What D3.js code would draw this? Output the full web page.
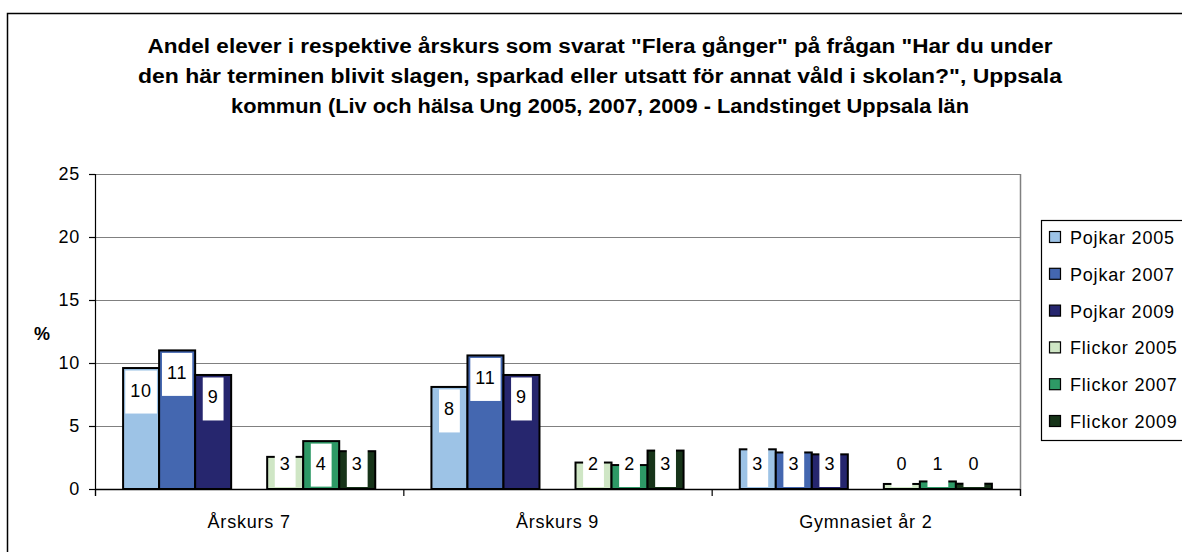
<!DOCTYPE html>
<meta charset="utf-8">
<style>
  body { margin: 0; background: #fff; }
  svg text { font-family: "Liberation Sans", Arial, sans-serif; }
</style>
<body>
<div class="chart"></div>
<script src="https://d3js.org/d3.v7.min.js"></script>
<script>

    const categories = ["Årskurs 7", "Årskurs 9", "Gymnasiet år 2"];
    const seriesNames = ["Pojkar 2005", "Pojkar 2007", "Pojkar 2009", "Flickor 2005", "Flickor 2007", "Flickor 2009"];
    const pojkar2005 = [9.6, 8.1, 3.15];
    const pojkar2007 = [11.0, 10.6, 2.9];
    const pojkar2009 = [9.05, 9.05, 2.75];
    const flickor2005 = [2.55, 2.1, 0.4];
    const flickor2007 = [3.8, 1.9, 0.6];
    const flickor2009 = [3.0, 3.05, 0.42];
    const yTicks = [0, 5, 10, 15, 20, 25];
    const titleLines = [
        "Andel elever i respektive årskurs som svarat \"Flera gånger\" på frågan \"Har du under",
        "den här terminen blivit slagen, sparkad eller utsatt för annat våld i skolan?\", Uppsala",
        "kommun (Liv och hälsa Ung 2005, 2007, 2009 - Landstinget Uppsala län"
    ];

    const seriesValues = [pojkar2005, pojkar2007, pojkar2009, flickor2005, flickor2007, flickor2009];
    const colors = ["#9dc3e6", "#4467b0", "#26266e", "#cfe6c5", "#2e9966", "#173419"];
    // 7 slots per group, slot 3 is left empty between boys and girls
    const slots = [0, 1, 2, 4, 5, 6];

    const width = 1182, height = 552;
    const plot = {left: 95, right: 1020, top: 174, bottom: 489};
    const fs = 18, ls = 0.8;

    const svg = d3.select(".chart").append("svg")
        .attr("width", width)
        .attr("height", height);

    // outer chart frame
    svg.append("rect")
        .attr("x", 7.5).attr("y", 13.5)
        .attr("width", 1300).attr("height", 700)
        .attr("fill", "none")
        .attr("stroke", "#000")
        .attr("stroke-width", 1.5);

    // title
    const titleWidths = [905, 924, 738];
    const titleY = [53, 83, 113];
    svg.append("g").selectAll("text")
        .data(titleLines)
        .join("text")
        .attr("x", 600)
        .attr("y", (d, i) => titleY[i])
        .attr("text-anchor", "middle")
        .attr("font-weight", "bold")
        .attr("font-size", 20)
        .attr("textLength", (d, i) => titleWidths[i])
        .attr("lengthAdjust", "spacingAndGlyphs")
        .text(d => d);

    const x0 = d3.scaleBand()
        .domain(categories)
        .range([plot.left, plot.right]);

    const x1 = d3.scaleBand()
        .domain(d3.range(7))
        .range([0, x0.bandwidth()])
        .paddingInner(0)
        .paddingOuter(0.78);

    const y = d3.scaleLinear()
        .domain([0, 25])
        .range([plot.bottom, plot.top]);

    // gridlines
    svg.append("g")
        .selectAll("line")
        .data(yTicks.filter(d => d > 0))
        .join("line")
        .attr("x1", plot.left).attr("x2", plot.right)
        .attr("y1", d => y(d) + 0.5).attr("y2", d => y(d) + 0.5)
        .attr("stroke", "#808080")
        .attr("stroke-width", 1.2);

    // right plot border
    svg.append("line")
        .attr("x1", plot.right + 0.5).attr("x2", plot.right + 0.5)
        .attr("y1", plot.top).attr("y2", plot.bottom + 7)
        .attr("stroke", "#808080")
        .attr("stroke-width", 1.5);

    // y axis
    const yAxis = svg.append("g")
        .attr("transform", `translate(${plot.left},0)`)
        .call(d3.axisLeft(y).tickValues(yTicks).tickSize(6).tickPadding(9));
    yAxis.select(".domain").attr("stroke", "#000").attr("stroke-width", 1.2)
        .attr("d", `M0.5,${plot.top}V${plot.bottom + 7}`);
    yAxis.selectAll(".tick line").attr("stroke", "#000").attr("stroke-width", 1.2);
    yAxis.selectAll(".tick text")
        .attr("font-size", fs)
        .attr("letter-spacing", ls)
        .attr("font-family", "Liberation Sans, Arial, sans-serif")
        .attr("fill", "#000");

    svg.append("text")
        .attr("x", 42).attr("y", 340)
        .attr("text-anchor", "middle")
        .attr("font-weight", "bold")
        .attr("font-size", 18)
        .text("%");

    // bars
    const barData = [];
    seriesNames.forEach((s, si) => {
        categories.forEach((c, ci) => {
            barData.push({series: si, cat: c, value: seriesValues[si][ci]});
        });
    });

    svg.append("g")
        .selectAll("rect")
        .data(barData)
        .join("rect")
        .attr("x", d => x0(d.cat) + x1(slots[d.series]))
        .attr("y", d => y(d.value))
        .attr("width", x1.bandwidth())
        .attr("height", d => y(0) - y(d.value))
        .attr("fill", d => colors[d.series])
        .attr("stroke", "#000")
        .attr("stroke-width", 2);

    // data labels with white boxes
    const boxH = 43;
    const labels = svg.append("g")
        .selectAll("g")
        .data(barData)
        .join("g")
        .attr("transform", d => {
            const cx = x0(d.cat) + x1(slots[d.series]) + x1.bandwidth() / 2;
            const top = Math.min(y(d.value) + 2.5, y(0) - 2 - boxH);
            return `translate(${cx},${top})`;
        });

    labels.append("text")
        .attr("text-anchor", "middle")
        .attr("y", 26)
        .attr("font-size", fs)
        .attr("letter-spacing", ls)
        .text(d => Math.round(d.value));

    labels.insert("rect", "text")
        .attr("fill", "#fff")
        .each(function () {
            const t = d3.select(this.parentNode).select("text").node();
            const w = t.getComputedTextLength() + 10;
            d3.select(this)
                .attr("x", -w / 2)
                .attr("y", 0)
                .attr("width", w)
                .attr("height", boxH);
        });

    // x axis
    svg.append("line")
        .attr("x1", plot.left).attr("x2", plot.right)
        .attr("y1", plot.bottom + 0.5).attr("y2", plot.bottom + 0.5)
        .attr("stroke", "#000")
        .attr("stroke-width", 1.5);

    const bounds = categories.map(c => x0(c)).concat([plot.right]);
    svg.append("g")
        .selectAll("line")
        .data(bounds)
        .join("line")
        .attr("x1", d => d + 0.5).attr("x2", d => d + 0.5)
        .attr("y1", plot.bottom).attr("y2", plot.bottom + 7)
        .attr("stroke", "#000")
        .attr("stroke-width", 1.2);

    svg.append("g")
        .selectAll("text")
        .data(categories)
        .join("text")
        .attr("x", d => x0(d) + x0.bandwidth() / 2)
        .attr("y", 528)
        .attr("text-anchor", "middle")
        .attr("font-size", fs)
        .attr("letter-spacing", ls)
        .text(d => d);

    // legend
    const legend = svg.append("g");
    legend.append("rect")
        .attr("x", 1041.5).attr("y", 220.5)
        .attr("width", 200).attr("height", 220)
        .attr("fill", "#fff")
        .attr("stroke", "#000")
        .attr("stroke-width", 1.2);

    const item = legend.selectAll("g")
        .data(seriesNames)
        .join("g")
        .attr("transform", (d, i) => `translate(1049,${237 + i * 36.8})`);
    item.append("rect")
        .attr("x", 0.5).attr("y", -5.5)
        .attr("width", 11).attr("height", 11)
        .attr("fill", (d, i) => colors[i])
        .attr("stroke", "#000")
        .attr("stroke-width", 1.2);
    item.append("text")
        .attr("x", 21)
        .attr("y", 7)
        .attr("font-size", fs)
        .attr("letter-spacing", ls)
        .text(d => d);

</script>
